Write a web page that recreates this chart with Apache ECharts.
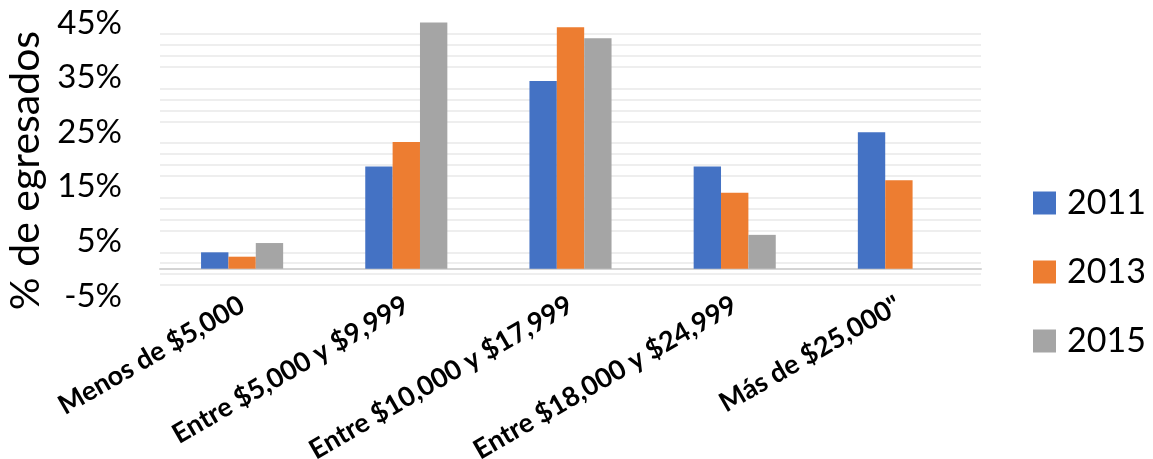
<!DOCTYPE html>
<html>
<head>
<meta charset="utf-8">
<script src="https://cdn.jsdelivr.net/npm/echarts@6/dist/echarts.min.js"></script>
<style>
  html, body { margin: 0; padding: 0; background: #fff; }
  #chart { width: 1153px; height: 459px; }
</style>
</head>
<body>
<div id="chart"></div>
<script>
// Income brackets of graduates, by survey year (percent of graduates)
const categories = [
  'Menos de $5,000',
  'Entre $5,000 y $9,999',
  'Entre $10,000 y $17,999',
  'Entre $18,000 y $24,999',
  'Más de $25,000"'
];
const years = ['2011', '2013', '2015'];
const values2011 = [3.0, 18.7, 34.4, 18.7, 25.0];
const values2013 = [2.2, 23.2, 44.2, 13.9, 16.2];
const values2015 = [4.7, 45.1, 42.2, 6.2, null];
const colors = ['#4472C4', '#ED7D31', '#A5A5A5'];

const font = 'Lato, "Liberation Sans", sans-serif';
const seriesValues = [values2011, values2013, values2015];

const chart = echarts.init(document.getElementById('chart'), null, { renderer: 'canvas' });
chart.setOption({
  animation: false,
  backgroundColor: '#ffffff',
  textStyle: { fontFamily: font, color: '#000' },
  grid: { left: 160, right: 172, top: 23, bottom: 163, containLabel: false, outerBoundsMode: 'none' },
  legend: {
    orient: 'vertical',
    left: 1028,
    top: 181,
    itemWidth: 23,
    itemHeight: 23,
    itemGap: 35,
    icon: 'rect',
    data: years,
    textStyle: { fontFamily: font, fontSize: 34, color: '#000', lineHeight: 32, padding: [0, 0, 0, 6] }
  },
  xAxis: {
    type: 'category',
    data: categories,
    axisLine: { onZero: true, lineStyle: { color: '#d4d4d4', width: 2 } },
    axisTick: { show: false },
    axisLabel: {
      interval: 0,
      rotate: 30,
      margin: 7,
      fontFamily: font,
      fontSize: 27,
      fontWeight: 'bold',
      color: '#000'
    }
  },
  yAxis: {
    type: 'value',
    min: -5,
    max: 45,
    interval: 10,
    name: '% de egresados',
    nameLocation: 'middle',
    nameRotate: 90,
    nameGap: 114,
    nameTextStyle: { fontFamily: font, fontSize: 41, color: '#000', padding: [0, 22, 0, 0] },
    axisLine: { show: false },
    axisTick: { show: false },
    axisLabel: {
      formatter: v => v + '%',
      fontFamily: font,
      fontSize: 33,
      color: '#000',
      margin: 38
    },
    splitLine: { show: false },
    minorTick: { show: false, splitNumber: 5 },
    minorSplitLine: { show: true, lineStyle: { color: '#eeeeee', width: 2 } }
  },
  series: years.map((y, i) => ({
    name: y,
    type: 'bar',
    data: seriesValues[i],
    barGap: '0%',
    barCategoryGap: '50%',
    clip: false,
    itemStyle: { color: colors[i] }
  }))
});
</script>
</body>
</html>
